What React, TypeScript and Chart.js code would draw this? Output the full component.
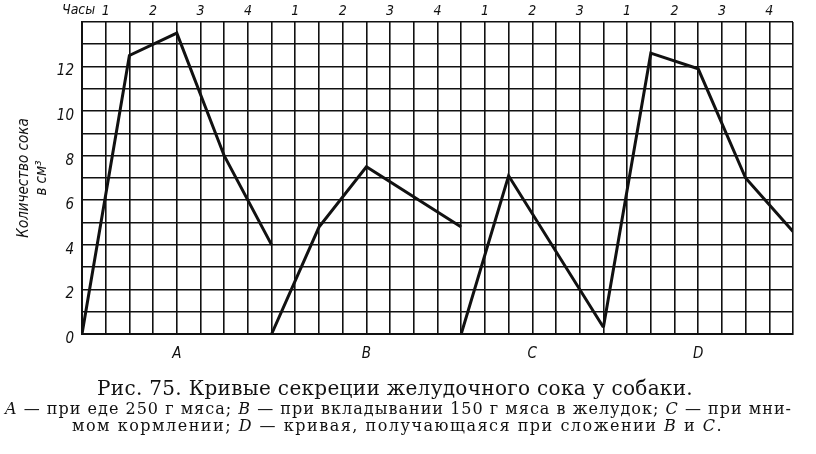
import React, { useEffect, useLayoutEffect, useRef } from "react";
import { Chart, registerables } from "chart.js";

Chart.register(...registerables);

// Record letters and the length of each record, in hours
const sectionLetters = ["A", "B", "C", "D"];
const sectionHours = [4, 4, 3, 4];

// Hour numbers printed along the top edge, one per hour of each record
const hourLabels = ["1", "2", "3", "4", "1", "2", "3", "4", "1", "2", "3", "1", "2", "3", "4"];

// Juice volume (cm³) at hours counted from the start of each record
const hoursA = [0, 1, 2, 3, 4];
const juiceA = [0, 12.5, 13.5, 8, 4];
const hoursB = [0, 1, 2, 4];
const juiceB = [0, 4.8, 7.5, 4.8];
const hoursC = [0, 1, 3];
const juiceC = [0, 7.1, 0.3];
const hoursD = [0, 1, 2, 3, 4];
const juiceD = [0.3, 12.6, 11.9, 7.0, 4.6];

// Labelled values on the volume axis
const yTickValues = [0, 2, 4, 6, 8, 10, 12];
const yMax = 14;

const axisTitle = ["Количество сока", "в см³"];

const AXIS_FONT = '"Liberation Sans Narrow", "DejaVu Sans Condensed", "DejaVu Sans", sans-serif';
const SERIF = '"DejaVu Serif", "Liberation Serif", serif';
const INK = "#111";

const sectionStart = sectionHours.map((_, i) =>
  sectionHours.slice(0, i).reduce((a, b) => a + b, 0)
);
const totalHours = sectionHours.reduce((a, b) => a + b, 0);
const sectionCenter = sectionHours.map((h, i) => sectionStart[i] + h / 2);

const sections: [number[], number[]][] = [
  [hoursA, juiceA],
  [hoursB, juiceB],
  [hoursC, juiceC],
  [hoursD, juiceD],
];

// Each record is its own curve, placed after the previous one on the time axis
const curves = sections.map(([hs, vs], i) =>
  hs.map((h, j) => ({ x: sectionStart[i] + h, y: vs[j] }))
);

// Caption lines: target box for each line (left, top, width, font size)
const captionBoxes = [
  { left: 97, top: 378, width: 596, size: 20 },
  { left: 5, top: 401, width: 787, size: 16 },
  { left: 72, top: 418, width: 651, size: 16 },
];

export default function App() {
  const canvasRef = useRef<HTMLCanvasElement | null>(null);
  const lineRefs = useRef<(HTMLDivElement | null)[]>([]);

  useEffect(() => {
    const canvas = canvasRef.current;
    if (!canvas) return;
    const chart = new Chart(canvas, {
      type: "line",
      data: {
        datasets: curves.map((pts, i) => ({
          label: sectionLetters[i],
          data: pts,
          borderColor: INK,
          borderWidth: 3,
          pointRadius: 0,
          tension: 0,
          fill: false,
          xAxisID: "x",
          yAxisID: "y",
        })),
      },
      options: {
        responsive: false,
        animation: false,
        events: [],
        layout: { padding: { left: 0, top: 0, right: 23, bottom: 0 } },
        plugins: { legend: { display: false }, tooltip: { enabled: false } },
        scales: {
          x: {
            type: "linear",
            position: "bottom",
            min: 0,
            max: totalHours,
            afterFit: (s: any) => {
              s.height = 120;
            },
            grid: { color: INK, lineWidth: 1.6, drawTicks: false },
            border: { display: true, color: INK, width: 2 },
            ticks: {
              stepSize: 0.5,
              autoSkip: false,
              maxRotation: 0,
              padding: 11,
              color: INK,
              font: { family: AXIS_FONT, size: 15, style: "italic" },
              callback: (value: any) => {
                const i = sectionCenter.findIndex((c) => Math.abs(c - Number(value)) < 1e-6);
                return i >= 0 ? sectionLetters[i] : "";
              },
            },
          },
          hours: {
            type: "category",
            position: "top",
            labels: hourLabels,
            offset: true,
            afterFit: (s: any) => {
              s.height = 22;
            },
            grid: { display: false, drawTicks: false },
            border: { display: false },
            ticks: {
              autoSkip: false,
              maxRotation: 0,
              padding: 2,
              color: INK,
              font: { family: AXIS_FONT, size: 14, style: "italic" },
            },
          },
          y: {
            type: "linear",
            position: "left",
            min: 0,
            max: yMax,
            afterFit: (s: any) => {
              s.width = 82;
            },
            grid: { color: INK, lineWidth: 1.6, drawTicks: false },
            border: { display: true, color: INK, width: 2 },
            ticks: {
              stepSize: 1,
              autoSkip: false,
              padding: 8,
              labelOffset: 5,
              color: INK,
              font: { family: AXIS_FONT, size: 15, style: "italic" },
              callback: (value: any) =>
                yTickValues.includes(Number(value)) ? String(value) : "",
            },
            title: {
              display: true,
              text: axisTitle,
              color: INK,
              padding: { top: 15, bottom: 0 },
              font: { family: AXIS_FONT, size: 15, style: "italic", lineHeight: 1.2 },
            },
          },
        },
      },
    } as any);
    return () => chart.destroy();
  }, []);

  // Spread each caption line over its box by adjusting letter spacing
  useLayoutEffect(() => {
    lineRefs.current.forEach((el, i) => {
      if (!el) return;
      el.style.letterSpacing = "0px";
      const w = el.getBoundingClientRect().width;
      const n = (el.textContent || "").length;
      if (n > 0) el.style.letterSpacing = (captionBoxes[i].width - w) / n + "px";
    });
  }, []);

  const lineStyle = (i: number): React.CSSProperties => ({
    position: "absolute",
    left: captionBoxes[i].left,
    top: captionBoxes[i].top,
    fontFamily: SERIF,
    fontSize: captionBoxes[i].size,
    lineHeight: 1,
    whiteSpace: "nowrap",
    color: INK,
  });

  return (
    <div
      style={{
        position: "absolute",
        left: 0,
        top: 0,
        width: 816,
        height: 454,
        background: "#fff",
        overflow: "hidden",
      }}
    >
      <canvas
        ref={canvasRef}
        width={816}
        height={454}
        style={{ position: "absolute", left: 0, top: 0, width: 816, height: 454 }}
      />
      <span
        style={{
          position: "absolute",
          left: 62,
          top: 1,
          font: `italic 14px ${AXIS_FONT}`,
          color: INK,
          whiteSpace: "nowrap",
        }}
      >
        Часы
      </span>
      <div ref={(el) => { lineRefs.current[0] = el; }} style={lineStyle(0)}>
        Рис. 75. Кривые секреции желудочного сока у собаки.
      </div>
      <div ref={(el) => { lineRefs.current[1] = el; }} style={lineStyle(1)}>
        <i>A</i> — при еде 250 г мяса; <i>B</i> — при вкладывании 150 г мяса в желудок; <i>C</i> — при мни-
      </div>
      <div ref={(el) => { lineRefs.current[2] = el; }} style={lineStyle(2)}>
        мом кормлении; <i>D</i> — кривая, получающаяся при сложении <i>B</i> и <i>C</i>.
      </div>
    </div>
  );
}
